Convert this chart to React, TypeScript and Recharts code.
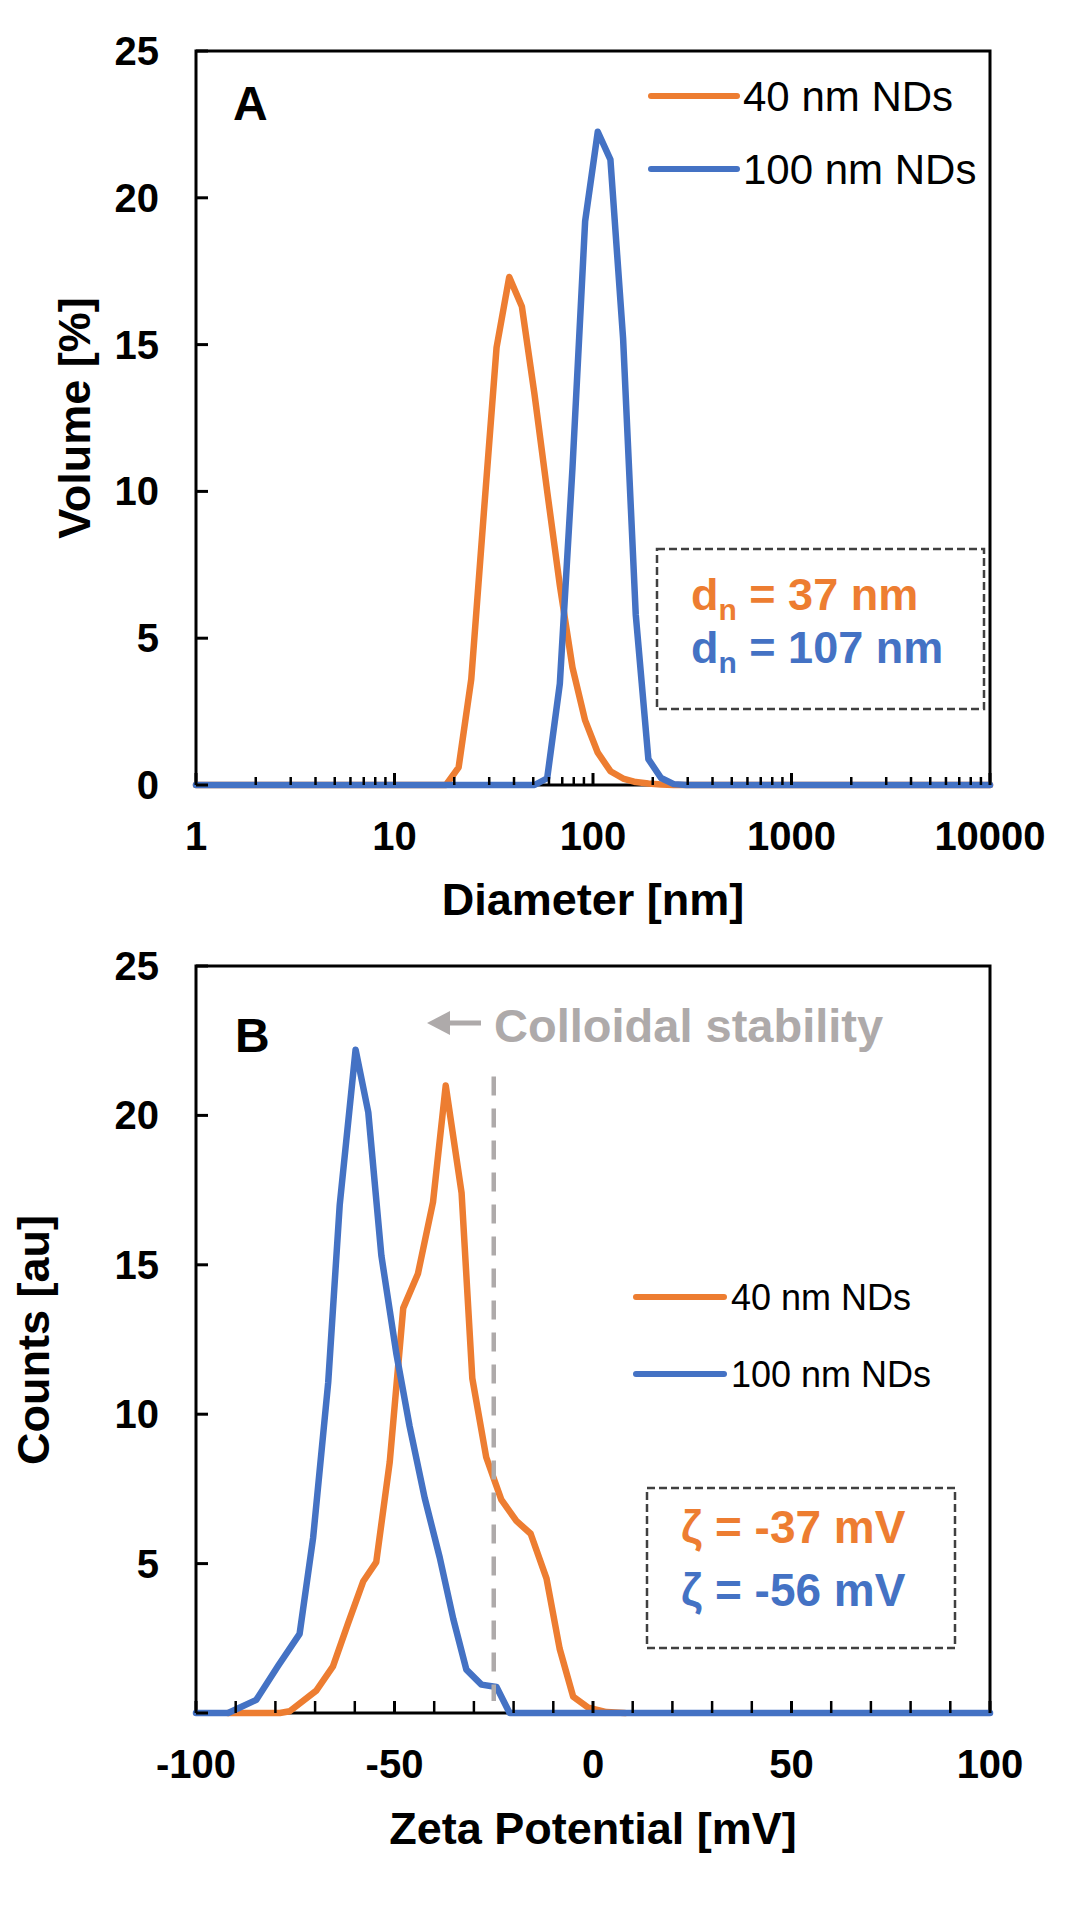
import React from 'react';
import { LineChart, Line, XAxis, YAxis, ReferenceArea, ReferenceLine, Legend } from 'recharts';

const FONT = '"Liberation Sans", Arial, Helvetica, sans-serif';
const ORANGE = '#ED7D31';
const BLUE = '#4472C4';
const GREY = '#AEAAAA';

const seriesNames = ['40 nm NDs', '100 nm NDs'];

// Panel A: volume distribution over the size classes [nm]
const diameters = [1, 15.69, 18.17, 21.04, 24.36, 28.21, 32.67, 37.84, 43.82, 50.75, 58.77, 68.06, 78.82, 91.28, 105.7, 122.4, 141.8, 164.2, 190.1, 220.2, 255.0, 295.3, 10000];
const volume40 = [0, 0, 0, 0.6, 3.6, 9.3, 14.9, 17.3, 16.3, 13.3, 10.0, 6.8, 4.0, 2.2, 1.1, 0.47, 0.22, 0.1, 0.05, 0.02, 0, 0, 0];
const volume100 = [0, 0, 0, 0, 0, 0, 0, 0, 0, 0, 0.23, 3.45, 10.8, 19.2, 22.25, 21.3, 15.2, 5.8, 0.88, 0.24, 0.03, 0, 0];

const diameterTicks = [
  1, 2, 3, 4, 5, 6, 7, 8, 9,
  10, 20, 30, 40, 50, 60, 70, 80, 90,
  100, 200, 300, 400, 500, 600, 700, 800, 900,
  1000, 2000, 3000, 4000, 5000, 6000, 7000, 8000, 9000,
  10000,
];
const diameterLabels = [1, 10, 100, 1000, 10000];
const volumeTicks = [0, 5, 10, 15, 20, 25];

// Panel B: zeta potential distribution
const zeta40 = [-92, -78.9, -76.4, -69.7, -65.5, -61.7, -57.9, -54.6, -51.2, -47.8, -44.1, -40.3, -37.1, -33.1, -30.4, -26.9, -23.1, -19.3, -15.7, -11.7, -8.4, -5.0, -1.2, 3.4, 8];
const counts40 = [0, 0, 0.06, 0.75, 1.56, 3.0, 4.4, 5.05, 8.4, 13.55, 14.7, 17.1, 21.0, 17.4, 11.2, 8.56, 7.14, 6.43, 6.0, 4.5, 2.15, 0.55, 0.18, 0.03, 0];
const zeta100 = [-100, -91.9, -84.8, -79.3, -73.9, -70.5, -66.7, -63.8, -59.8, -56.6, -53.3, -49.5, -46.2, -42.4, -38.6, -35.2, -31.9, -28.1, -24.3, -21.0, 100];
const counts100 = [0, 0, 0.44, 1.58, 2.65, 5.86, 11.06, 17.0, 22.2, 20.1, 15.3, 12.0, 9.6, 7.2, 5.2, 3.15, 1.45, 0.95, 0.87, 0, 0];

const zetaTicks = [-100, -90, -80, -70, -60, -50, -40, -30, -20, -10, 0, 10, 20, 30, 40, 50, 60, 70, 80, 90, 100];
const zetaLabels = [-100, -50, 0, 50, 100];
const countTicks = [0, 5, 10, 15, 20, 25];
const countLabels = [5, 10, 15, 20, 25];
const stabilityLimit = -25;

const rowsA = diameters.map((d, i) => ({ d, v40: volume40[i], v100: volume100[i] }));
const rows40 = zeta40.map((z, i) => ({ z, c: counts40[i] }));
const rows100 = zeta100.map((z, i) => ({ z, c: counts100[i] }));

const PLOT_LEFT = 196;
const PLOT_RIGHT = 990;
const A_TOP = 51;
const A_BOTTOM = 785;
const B_OFFSET = 920;
const B_HEIGHT = 1919 - B_OFFSET;
const B_TOP = 966 - B_OFFSET;
const B_BOTTOM = 1713 - B_OFFSET;

const tickText = { fontFamily: FONT, fontSize: 40, fontWeight: 700, fill: '#000' };

const XTick = (props: any) => {
  const { x, payload, axisY, labels, minorLen } = props;
  const v = payload.value;
  const major = labels.includes(v);
  return (
    <g>
      <line x1={x} x2={x} y1={axisY} y2={axisY - (major ? 12 : minorLen)} stroke="#000" strokeWidth={major ? 3 : 2.5} />
      {major && (
        <text x={x} y={axisY + 65} textAnchor="middle" {...tickText}>{v}</text>
      )}
    </g>
  );
};

const YTick = (props: any) => {
  const { y, payload, labels } = props;
  const v = payload.value;
  return (
    <g>
      <line x1={PLOT_LEFT} x2={PLOT_LEFT + 12} y1={y} y2={y} stroke="#000" strokeWidth={3} />
      {labels.includes(v) && (
        <text x={159} y={y + 14} textAnchor="end" {...tickText}>{v}</text>
      )}
    </g>
  );
};

const legendContent = (lineW: number, rowH: number, fontSize: number, gap: number) => (props: any) => {
  const items = [...(props.payload || [])].sort(
    (a: any, b: any) => seriesNames.indexOf(a.value) - seriesNames.indexOf(b.value)
  );
  return (
    <div>
      {items.map((p: any) => (
        <div key={p.value} style={{ display: 'flex', alignItems: 'center', height: rowH }}>
          <div style={{ width: lineW, height: 6.5, borderRadius: 3.25, background: p.color }} />
          <span style={{ marginLeft: gap, fontFamily: FONT, fontSize, color: '#000', lineHeight: `${rowH}px`, whiteSpace: 'nowrap' }}>
            {p.value}
          </span>
        </div>
      ))}
    </div>
  );
};

const ChartA = () => (
  <LineChart width={1076} height={960} data={rowsA} margin={{ top: A_TOP, right: 1076 - PLOT_RIGHT, bottom: 0, left: 0 }}>
    <ReferenceArea x1={1} x2={10000} y1={0} y2={25} fill="none" stroke="#000" strokeWidth={3} />
    <XAxis
      dataKey="d"
      type="number"
      scale="log"
      domain={[1, 10000]}
      ticks={diameterTicks}
      interval={0}
      height={960 - A_BOTTOM}
      axisLine={false}
      tickLine={false}
      tick={<XTick axisY={A_BOTTOM} labels={diameterLabels} minorLen={8} />}
    />
    <YAxis
      type="number"
      domain={[0, 25]}
      ticks={volumeTicks}
      interval={0}
      width={PLOT_LEFT}
      axisLine={false}
      tickLine={false}
      tick={<YTick labels={volumeTicks} />}
    />
    <Line dataKey="v40" name={seriesNames[0]} stroke={ORANGE} strokeWidth={6.5} dot={false} strokeLinecap="round" strokeLinejoin="round" isAnimationActive={false} />
    <Line dataKey="v100" name={seriesNames[1]} stroke={BLUE} strokeWidth={6.5} dot={false} strokeLinecap="round" strokeLinejoin="round" isAnimationActive={false} />
    <Legend
      layout="vertical"
      align="center"
      verticalAlign="middle"
      content={legendContent(92, 73, 42, 3)}
      wrapperStyle={{ left: 648, top: 96 - 36.5, width: 'auto' }}
    />
  </LineChart>
);

const ChartB = () => (
  <LineChart width={1076} height={B_HEIGHT} margin={{ top: B_TOP, right: 1076 - PLOT_RIGHT, bottom: 0, left: 0 }}>
    <ReferenceArea x1={-100} x2={100} y1={0} y2={25} fill="none" stroke="#000" strokeWidth={3} />
    <XAxis
      dataKey="z"
      type="number"
      domain={[-100, 100]}
      ticks={zetaTicks}
      interval={0}
      height={B_HEIGHT - B_BOTTOM}
      axisLine={false}
      tickLine={false}
      allowDuplicatedCategory={false}
      tick={<XTick axisY={B_BOTTOM} labels={zetaLabels} minorLen={12} />}
    />
    <YAxis
      type="number"
      domain={[0, 25]}
      ticks={countTicks}
      interval={0}
      width={PLOT_LEFT}
      axisLine={false}
      tickLine={false}
      tick={<YTick labels={countLabels} />}
    />
    <Line data={rows40} dataKey="c" name={seriesNames[0]} stroke={ORANGE} strokeWidth={6.5} dot={false} strokeLinecap="round" strokeLinejoin="round" isAnimationActive={false} />
    <Line data={rows100} dataKey="c" name={seriesNames[1]} stroke={BLUE} strokeWidth={6.5} dot={false} strokeLinecap="round" strokeLinejoin="round" isAnimationActive={false} />
    <ReferenceLine
      segment={[{ x: stabilityLimit, y: 21.3 }, { x: stabilityLimit, y: 0.4 }]}
      stroke={GREY}
      strokeWidth={4.5}
      strokeDasharray="19 13"
    />
    <Legend
      layout="vertical"
      align="center"
      verticalAlign="middle"
      content={legendContent(94, 77, 36, 4)}
      wrapperStyle={{ left: 633, top: 1297 - B_OFFSET - 38.5, width: 'auto' }}
    />
  </LineChart>
);

const title = { fontFamily: FONT, fontSize: 45, fontWeight: 700, fill: '#000' };
const boxText = { fontFamily: FONT, fontSize: 45, fontWeight: 700 };
const zetaText = { fontFamily: FONT, fontSize: 46, fontWeight: 700 };

const Annotations = () => (
  <svg width={1076} height={1919} style={{ position: 'absolute', left: 0, top: 0, pointerEvents: 'none' }}>
    {/* panel A */}
    <text x={233} y={120} fontFamily={FONT} fontSize={48} fontWeight={700}>A</text>
    <text x={593} y={915} textAnchor="middle" {...title}>Diameter [nm]</text>
    <text x={90} y={418} textAnchor="middle" transform="rotate(-90 90 418)" {...title}>Volume [%]</text>
    <rect x={657} y={549} width={327} height={160} fill="none" stroke="#404040" strokeWidth={2.5} strokeDasharray="8 4" />
    <text x={691} y={610} fill={ORANGE} {...boxText}>
      d<tspan fontSize={30} dy={10}>n</tspan><tspan dy={-10}> = 37 nm</tspan>
    </text>
    <text x={691} y={663} fill={BLUE} {...boxText}>
      d<tspan fontSize={30} dy={10}>n</tspan><tspan dy={-10}> = 107 nm</tspan>
    </text>

    {/* panel B */}
    <text x={235} y={1052} fontFamily={FONT} fontSize={48} fontWeight={700}>B</text>
    <text x={593} y={1844} textAnchor="middle" {...title}>Zeta Potential [mV]</text>
    <text x={49} y={1340} textAnchor="middle" transform="rotate(-90 49 1340)" {...title}>Counts [au]</text>
    <polygon points="427,1023 450,1011 450,1035" fill={GREY} />
    <line x1={447} x2={481} y1={1023} y2={1023} stroke={GREY} strokeWidth={5} />
    <text x={494} y={1042} fontFamily={FONT} fontSize={47} fontWeight={700} fill={GREY}>Colloidal stability</text>
    <rect x={647} y={1488} width={308} height={160} fill="none" stroke="#404040" strokeWidth={2.5} strokeDasharray="8 4" />
    <text x={681} y={1543} fill={ORANGE} {...zetaText}>ζ = -37 mV</text>
    <text x={681} y={1606} fill={BLUE} {...zetaText}>ζ = -56 mV</text>
  </svg>
);

export default function App() {
  return (
    <div style={{ position: 'absolute', left: 0, top: 0, width: 1076, height: 1919, background: '#fff', fontFamily: FONT, overflow: 'hidden' }}>
      <div style={{ position: 'absolute', left: 0, top: 0 }}>
        <ChartA />
      </div>
      <div style={{ position: 'absolute', left: 0, top: B_OFFSET }}>
        <ChartB />
      </div>
      <Annotations />
    </div>
  );
}
